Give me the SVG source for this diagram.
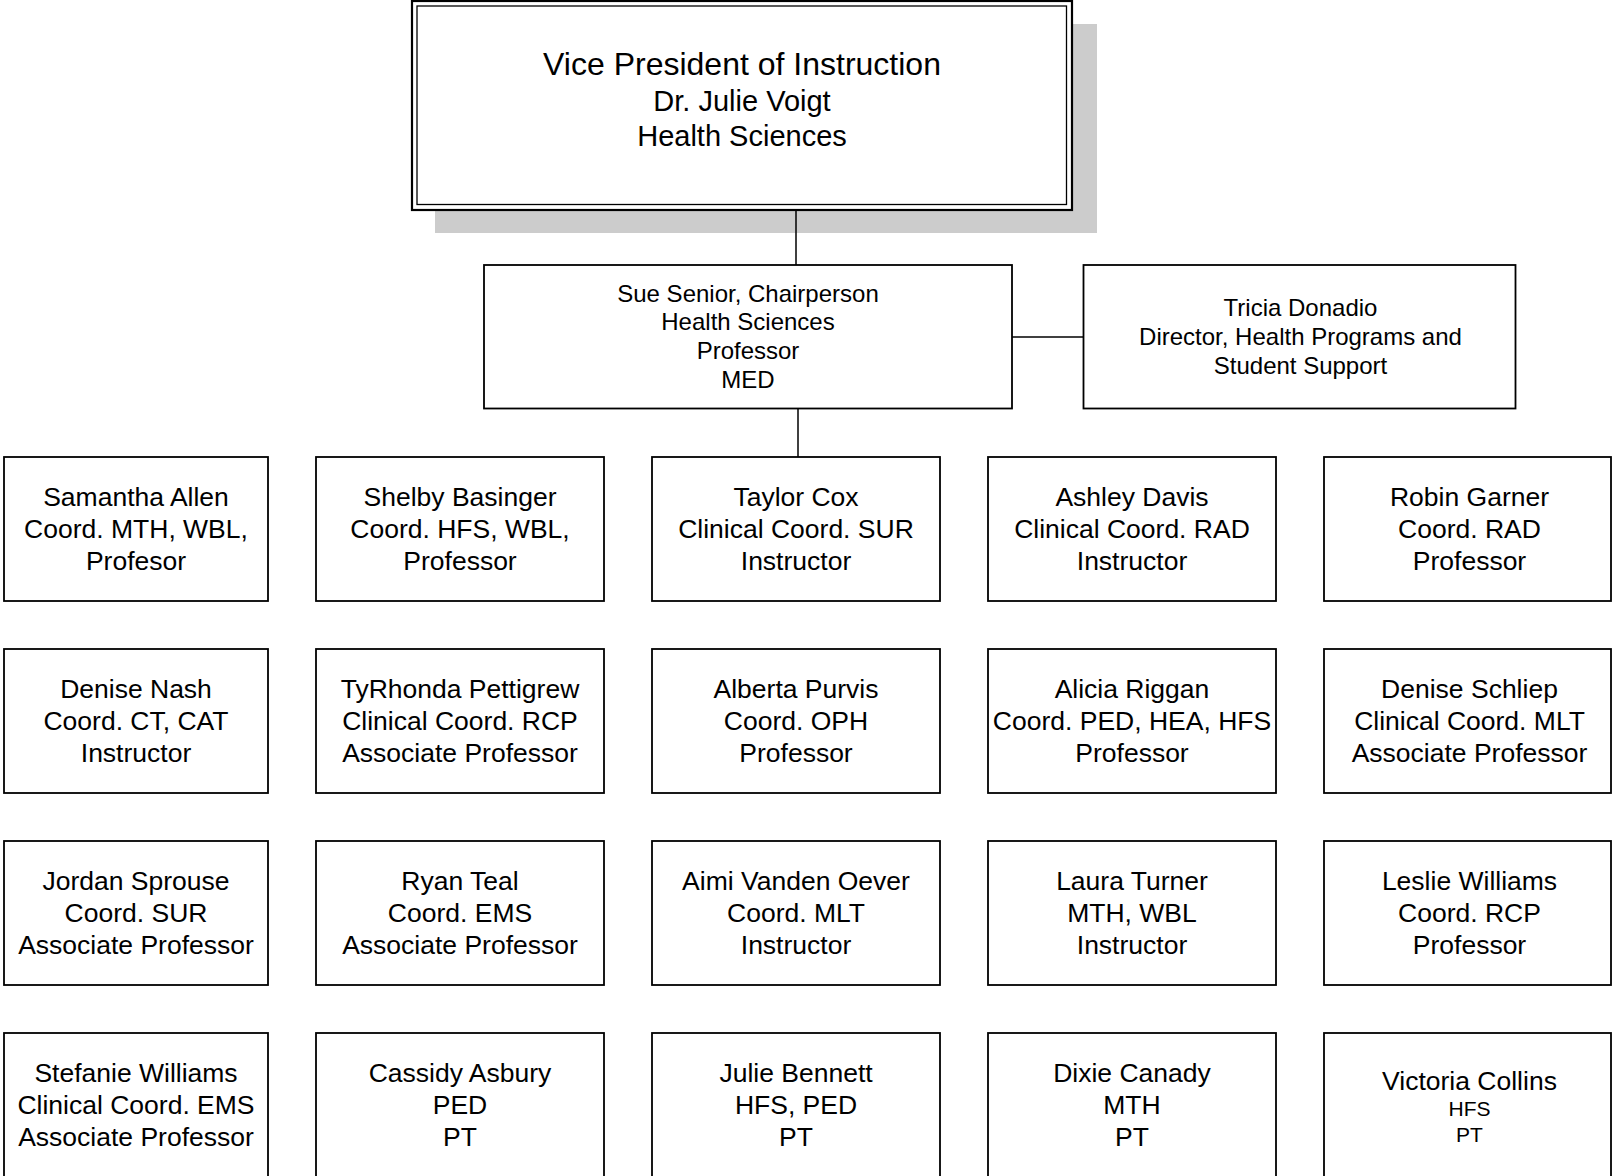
<svg xmlns="http://www.w3.org/2000/svg" width="1612" height="1176" viewBox="0 0 1612 1176">
<style>
.box{fill:#fff;stroke:#000;stroke-width:1.8}
.ln{fill:none;stroke:#000;stroke-width:1.5}
text{font-family:"Liberation Sans",Arial,sans-serif;fill:#000;text-anchor:middle}
.t{font-size:26.5px}
.m{font-size:24px}
.s{font-size:21px}
</style>
<rect x="0" y="0" width="1612" height="1176" fill="#fff"/>
<g id="vp">
<rect x="435" y="24" width="662" height="209" fill="#cccccc"/>
<rect x="412" y="1" width="660" height="209" fill="#fff" stroke="#000" stroke-width="2.2"/>
<rect x="417" y="6" width="649.5" height="198.5" fill="none" stroke="#000" stroke-width="1.3"/>
<text><tspan x="742" y="75" style="font-size:32px">Vice President of Instruction</tspan><tspan x="742" y="111" style="font-size:29px">Dr. Julie Voigt</tspan><tspan x="742" y="146" style="font-size:29px">Health Sciences</tspan></text>
</g>
<g id="connectors">
<line class="ln" x1="796" y1="210" x2="796" y2="265"/>
<line class="ln" x1="798" y1="409" x2="798" y2="457"/>
<line class="ln" x1="1012" y1="337" x2="1083" y2="337"/>
</g>
<g id="sue">
<rect class="box" x="484" y="265" width="528" height="143.5"/>
<text class="m"><tspan x="748" y="301.5">Sue Senior, Chairperson</tspan><tspan x="748" y="330.3">Health Sciences</tspan><tspan x="748" y="359">Professor</tspan><tspan x="748" y="388">MED</tspan></text>
</g>
<g id="tricia">
<rect class="box" x="1083.5" y="265" width="432" height="143.5"/>
<text class="m"><tspan x="1300.5" y="316">Tricia Donadio</tspan><tspan x="1300.5" y="344.7">Director, Health Programs and</tspan><tspan x="1300.5" y="373.5">Student Support</tspan></text>
</g>
<!-- Row 1 -->
<g id="allen"><rect class="box" x="4" y="457" width="264" height="144"/><text class="t"><tspan x="136" y="506">Samantha Allen</tspan><tspan x="136" y="538">Coord. MTH, WBL,</tspan><tspan x="136" y="570">Profesor</tspan></text></g>
<g id="basinger"><rect class="box" x="316" y="457" width="288" height="144"/><text class="t"><tspan x="460" y="506">Shelby Basinger</tspan><tspan x="460" y="538">Coord. HFS, WBL,</tspan><tspan x="460" y="570">Professor</tspan></text></g>
<g id="cox"><rect class="box" x="652" y="457" width="288" height="144"/><text class="t"><tspan x="796" y="506">Taylor Cox</tspan><tspan x="796" y="538">Clinical Coord. SUR</tspan><tspan x="796" y="570">Instructor</tspan></text></g>
<g id="davis"><rect class="box" x="988" y="457" width="288" height="144"/><text class="t"><tspan x="1132" y="506">Ashley Davis</tspan><tspan x="1132" y="538">Clinical Coord. RAD</tspan><tspan x="1132" y="570">Instructor</tspan></text></g>
<g id="garner"><rect class="box" x="1324" y="457" width="287" height="144"/><text class="t"><tspan x="1469.5" y="506">Robin Garner</tspan><tspan x="1469.5" y="538">Coord. RAD</tspan><tspan x="1469.5" y="570">Professor</tspan></text></g>
<!-- Row 2 -->
<g id="nash"><rect class="box" x="4" y="649" width="264" height="144"/><text class="t"><tspan x="136" y="698">Denise Nash</tspan><tspan x="136" y="730">Coord. CT, CAT</tspan><tspan x="136" y="762">Instructor</tspan></text></g>
<g id="pettigrew"><rect class="box" x="316" y="649" width="288" height="144"/><text class="t"><tspan x="460" y="698">TyRhonda Pettigrew</tspan><tspan x="460" y="730">Clinical Coord. RCP</tspan><tspan x="460" y="762">Associate Professor</tspan></text></g>
<g id="purvis"><rect class="box" x="652" y="649" width="288" height="144"/><text class="t"><tspan x="796" y="698">Alberta Purvis</tspan><tspan x="796" y="730">Coord. OPH</tspan><tspan x="796" y="762">Professor</tspan></text></g>
<g id="riggan"><rect class="box" x="988" y="649" width="288" height="144"/><text class="t"><tspan x="1132" y="698">Alicia Riggan</tspan><tspan x="1132" y="730">Coord. PED, HEA, HFS</tspan><tspan x="1132" y="762">Professor</tspan></text></g>
<g id="schliep"><rect class="box" x="1324" y="649" width="287" height="144"/><text class="t"><tspan x="1469.5" y="698">Denise Schliep</tspan><tspan x="1469.5" y="730">Clinical Coord. MLT</tspan><tspan x="1469.5" y="762">Associate Professor</tspan></text></g>
<!-- Row 3 -->
<g id="sprouse"><rect class="box" x="4" y="841" width="264" height="144"/><text class="t"><tspan x="136" y="890">Jordan Sprouse</tspan><tspan x="136" y="922">Coord. SUR</tspan><tspan x="136" y="954">Associate Professor</tspan></text></g>
<g id="teal"><rect class="box" x="316" y="841" width="288" height="144"/><text class="t"><tspan x="460" y="890">Ryan Teal</tspan><tspan x="460" y="922">Coord. EMS</tspan><tspan x="460" y="954">Associate Professor</tspan></text></g>
<g id="vandenoever"><rect class="box" x="652" y="841" width="288" height="144"/><text class="t"><tspan x="796" y="890">Aimi Vanden Oever</tspan><tspan x="796" y="922">Coord. MLT</tspan><tspan x="796" y="954">Instructor</tspan></text></g>
<g id="turner"><rect class="box" x="988" y="841" width="288" height="144"/><text class="t"><tspan x="1132" y="890">Laura Turner</tspan><tspan x="1132" y="922">MTH, WBL</tspan><tspan x="1132" y="954">Instructor</tspan></text></g>
<g id="lwilliams"><rect class="box" x="1324" y="841" width="287" height="144"/><text class="t"><tspan x="1469.5" y="890">Leslie Williams</tspan><tspan x="1469.5" y="922">Coord. RCP</tspan><tspan x="1469.5" y="954">Professor</tspan></text></g>
<!-- Row 4 -->
<g id="swilliams"><rect class="box" x="4" y="1033" width="264" height="144"/><text class="t"><tspan x="136" y="1082">Stefanie Williams</tspan><tspan x="136" y="1114">Clinical Coord. EMS</tspan><tspan x="136" y="1146">Associate Professor</tspan></text></g>
<g id="asbury"><rect class="box" x="316" y="1033" width="288" height="144"/><text class="t"><tspan x="460" y="1082">Cassidy Asbury</tspan><tspan x="460" y="1114">PED</tspan><tspan x="460" y="1146">PT</tspan></text></g>
<g id="bennett"><rect class="box" x="652" y="1033" width="288" height="144"/><text class="t"><tspan x="796" y="1082">Julie Bennett</tspan><tspan x="796" y="1114">HFS, PED</tspan><tspan x="796" y="1146">PT</tspan></text></g>
<g id="canady"><rect class="box" x="988" y="1033" width="288" height="144"/><text class="t"><tspan x="1132" y="1082">Dixie Canady</tspan><tspan x="1132" y="1114">MTH</tspan><tspan x="1132" y="1146">PT</tspan></text></g>
<g id="collins"><rect class="box" x="1324" y="1033" width="287" height="144"/><text><tspan class="t" x="1469.5" y="1090">Victoria Collins</tspan><tspan class="s" x="1469.5" y="1115.5">HFS</tspan><tspan class="s" x="1469.5" y="1141.5">PT</tspan></text></g>
</svg>
